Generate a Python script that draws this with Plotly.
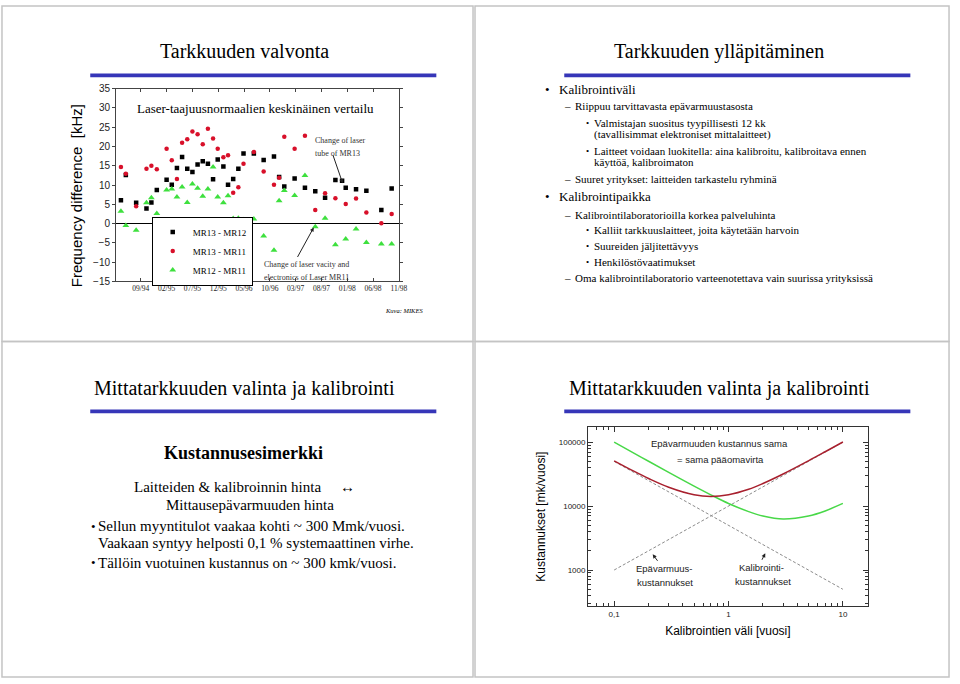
import plotly.graph_objects as go

W, H = 960, 684
def px(x): return x / W
def py(y): return 1 - y / H

SERIF = "Liberation Serif, Times New Roman, serif"
SANS = "Liberation Sans, Arial, sans-serif"

# ---------------- Top-left chart data (x = months since 09/94) ----------------
month_ticks = [0, 5, 10, 15, 20, 25, 30, 35, 40, 45, 50]
month_labels = ["09/94", "02/95", "07/95", "12/95", "05/96", "10/96",
                "03/97", "08/97", "01/98", "06/98", "11/98"]

x_mr13_mr12 = [-3.85, -2.9, -0.9, 1.1, 2.05, 3.1, 5.0, 6.0, 7.0, 8.0, 9.0, 10.0, 11.0,
               12.0, 13.0, 14.0, 14.9, 16.0, 16.9, 17.9, 18.9, 19.9, 21.9, 23.8, 25.8,
               26.8, 27.8, 29.8, 31.8, 33.8, 35.7, 37.7, 39.0, 39.7, 41.7, 43.7, 46.6, 48.6]
y_mr13_mr12 = [6.05, 12.6, 5.4, 3.9, 5.5, 8.7, 11.4, 10.1, 14.4, 17.3, 14.2, 13.4, 15.3,
               16.2, 15.5, 11.5, 16.6, 14.8, 10.1, 11.6, 14.2, 18.2, 18.2, 16.5, 17.4,
               12.1, 9.6, 11.7, 9.3, 8.4, 6.7, 11.3, 11.1, 9.3, 8.9, 8.5, 3.5, 9.1]

x_mr13_mr11 = [-3.85, -2.9, -0.9, 1.1, 2.05, 3.1, 5.0, 6.0, 7.0, 8.0, 9.0, 10.0, 11.0,
               12.0, 13.0, 14.0, 14.9, 16.0, 16.9, 17.9, 18.9, 19.9, 21.9, 23.8, 25.8,
               26.8, 27.8, 29.8, 31.8, 33.8, 35.7, 37.7, 39.7, 41.7, 43.7, 46.6, 48.6]
y_mr13_mr11 = [14.7, 12.9, 4.5, 14.2, 15.0, 14.1, 19.4, 16.4, 11.6, 21.0, 21.9, 23.9, 23.2,
               20.6, 24.6, 22.1, 19.4, 17.2, 17.7, 8.0, 9.4, 15.5, 18.6, 13.5, 10.1,
               11.9, 22.5, 19.4, 22.8, 3.5, 7.9, 6.6, 5.1, 6.5, 2.9, 0.1, 2.5]

x_mr12_mr11 = [-3.85, -2.9, -0.9, 1.1, 2.05, 3.1, 5.0, 6.0, 7.0, 8.0, 9.0, 10.0, 11.0,
               12.0, 13.0, 14.0, 14.9, 16.0, 16.9, 17.9, 18.9, 19.9, 21.9, 23.8, 25.8,
               26.8, 27.8, 29.8, 31.8, 33.8, 35.7, 37.7, 39.7, 41.7, 43.7, 46.6, 48.6]
y_mr12_mr11 = [3.2, -0.5, -1.7, 5.4, 6.7, 2.6, 8.7, 9.0, 6.9, 9.5, 5.5, 10.3, 9.2,
               7.1, 9.0, 14.7, 6.9, 5.4, 7.2, 1.3, 1.4, 1.0, 1.2, -3.2, -6.9,
               5.9, 8.6, 7.3, 12.5, -0.8, 1.4, -5.5, -4.0, -1.4, -4.9, -5.3, -5.3]

# ---------------- Bottom-right chart data ----------------
interval_years = [0.1, 0.15, 0.2, 0.3, 0.5, 0.7, 1, 1.5, 2, 3, 5, 7, 10]
total_cost_red = [51000, 34800, 27000, 19700, 15000, 14100, 15000, 18300, 22500,
                  31700, 51000, 70700, 100500]
total_cost_green = [100100, 66800, 50200, 33600, 20500, 15000, 11000, 8200, 7000,
                    6300, 7000, 8400, 11000]
uncert_x = [0.1, 10]
uncert_cost = [1000, 100000]
calib_x = [0.1, 10]
calib_cost = [50000, 500]

# ---------------- Text content ----------------
tr_lines = [
    (0, "Kalibrointiväli", 86),
    (1, "Riippuu tarvittavasta epävarmuustasosta", 103),
    (2, "Valmistajan suositus tyypillisesti 12 kk", 120),
    (3, "(tavallisimmat elektroniset mittalaitteet)", 132),
    (2, "Laitteet voidaan luokitella: aina kalibroitu, kalibroitava ennen", 148),
    (3, "käyttöä, kalibroimaton", 160),
    (1, "Suuret yritykset: laitteiden tarkastelu ryhminä", 177),
    (0, "Kalibrointipaikka", 195),
    (1, "Kalibrointilaboratorioilla korkea palveluhinta", 213),
    (2, "Kalliit tarkkuuslaitteet, joita käytetään harvoin", 229),
    (2, "Suureiden jäljitettävyys", 245),
    (2, "Henkilöstövaatimukset", 261),
    (1, "Oma kalibrointilaboratorio varteenotettava vain suurissa yrityksissä", 277),
]

fig = go.Figure()

# Top-left scatter
fig.add_trace(go.Scatter(x=x_mr13_mr12, y=y_mr13_mr12, mode="markers", name="MR13 - MR12",
                         marker=dict(symbol="square", size=4.5, color="black"),
                         xaxis="x", yaxis="y"))
fig.add_trace(go.Scatter(x=x_mr13_mr11, y=y_mr13_mr11, mode="markers", name="MR13 - MR11",
                         marker=dict(symbol="circle", size=4.5, color="#d8102a"),
                         xaxis="x", yaxis="y"))
fig.add_trace(go.Scatter(x=x_mr12_mr11, y=y_mr12_mr11, mode="markers", name="MR12 - MR11",
                         marker=dict(symbol="triangle-up", size=6, color="#3ee03e"),
                         xaxis="x", yaxis="y"))

# Bottom-right lines
dash_style = dict(color="#8c8c8c", width=1, dash="3px,2px")
fig.add_trace(go.Scatter(x=uncert_x, y=uncert_cost, mode="lines", line=dash_style,
                         showlegend=False, xaxis="x2", yaxis="y2"))
fig.add_trace(go.Scatter(x=calib_x, y=calib_cost, mode="lines", line=dash_style,
                         showlegend=False, xaxis="x2", yaxis="y2"))
fig.add_trace(go.Scatter(x=interval_years, y=total_cost_green, mode="lines",
                         line=dict(color="#48d848", width=1.5, shape="spline"),
                         showlegend=False, xaxis="x2", yaxis="y2"))
fig.add_trace(go.Scatter(x=interval_years, y=total_cost_red, mode="lines",
                         line=dict(color="#a8202e", width=1.5, shape="spline"),
                         showlegend=False, xaxis="x2", yaxis="y2"))

shapes = []
# slide frames
for (x0, y0, x1, y1) in [(2, 1, 477, 342), (479, 1, 957, 342), (2, 342, 477, 683), (479, 342, 957, 683)]:
    shapes.append(dict(type="rect", xref="paper", yref="paper", x0=px(x0), x1=px(x1),
                       y0=py(y0), y1=py(y1), line=dict(color="#c4c4c4", width=1.5)))
# blue bars
for (x0, x1, yc) in [(91, 440, 71.5), (569, 918, 71.5), (91, 440, 413), (569, 918, 413)]:
    shapes.append(dict(type="rect", xref="paper", yref="paper", x0=px(x0), x1=px(x1),
                       y0=py(yc - 2), y1=py(yc + 2), fillcolor="#3636b8", line=dict(width=0)))

ann = []
def text(x, y, s, size, font=SERIF, anchor="left", color="black", **kw):
    ann.append(dict(xref="paper", yref="paper", x=px(x), y=py(y), text=s, showarrow=False,
                    xanchor=anchor, yanchor="middle", font=dict(family=font, size=size, color=color), **kw))

# slide titles
text(247, 47, "Tarkkuuden valvonta", 20, anchor="center")
text(725, 47, "Tarkkuuden ylläpitäminen", 20, anchor="center")
text(247, 390, "Mittatarkkuuden valinta ja kalibrointi", 20, anchor="center")
text(726, 390, "Mittatarkkuuden valinta ja kalibrointi", 20, anchor="center")

# top-left chart texts
text(258, 105, "Laser-taajuusnormaalien keskinäinen vertailu", 13, anchor="center")
text(316, 138, "Change of laser", 8, color="#333")
text(316, 151, "tube of MR13", 8, color="#333")
text(264, 264, "Change of laser vacity and", 8, color="#333")
text(264, 277, "electronics of Laser MR11", 8, color="#333")
text(386, 310, "<i>Kuva: MIKES</i>", 6.5)
ann.append(dict(xref="paper", yref="paper", x=px(78), y=py(194), text="Frequency difference  [kHz]",
                showarrow=False, textangle=-90, xanchor="center", yanchor="middle",
                font=dict(family=SANS, size=15, color="black")))
ann.append(dict(xref="x", yref="y", x=39.1, y=10.5, ax=-10, ay=-29, text="", showarrow=True,
                arrowhead=2, arrowsize=0.8, arrowwidth=1, arrowcolor="#222"))
ann.append(dict(xref="x", yref="y", x=33.5, y=-1.0, ax=-17, ay=31, text="", showarrow=True,
                arrowhead=2, arrowsize=0.8, arrowwidth=1, arrowcolor="#222"))

# top-right bullets
for lvl, s, y in tr_lines:
    if lvl == 0:
        text(548, y, "•", 13)
        text(562, y, s, 13)
    elif lvl == 1:
        text(567, y, "–", 11)
        text(578, y, s, 11)
    elif lvl == 2:
        text(589, y, "•", 9)
        text(597, y, s, 11)
    else:
        text(597, y, s, 11)

# bottom-left text
text(246, 455, "<b>Kustannusesimerkki</b>", 18, anchor="center")
text(133, 490, "Laitteiden &amp; kalibroinnin hinta", 15)
text(350, 490, "↔", 15, anchor="center")
text(252, 508, "Mittausepävarmuuden hinta", 15, anchor="center")
text(90, 530, "•", 13)
text(97, 530, "Sellun myyntitulot vaakaa kohti ~ 300 Mmk/vuosi.", 15)
text(97, 547, "Vaakaan syntyy helposti 0,1 % systemaattinen virhe.", 15)
text(90, 567, "•", 13)
text(97, 567, "Tällöin vuotuinen kustannus on ~ 300 kmk/vuosi.", 15)

# bottom-right chart texts
text(726, 446, "Epävarmuuden kustannus sama", 9.5, font=SANS, anchor="center", color="#222")
text(727, 462, "= sama pääomavirta", 9.5, font=SANS, anchor="center", color="#222")
text(670, 573, "Epävarmuus-", 9.5, font=SANS, anchor="center", color="#222")
text(671, 587, "kustannukset", 9.5, font=SANS, anchor="center", color="#222")
text(768, 572, "Kalibrointi-", 9.5, font=SANS, anchor="center", color="#222")
text(769, 586, "kustannukset", 9.5, font=SANS, anchor="center", color="#222")
ann.append(dict(xref="x2", yref="y2", x=-0.663, y=3.246, ax=6, ay=8, text="", showarrow=True,
                arrowhead=2, arrowsize=0.8, arrowwidth=1, arrowcolor="#222"))
ann.append(dict(xref="x2", yref="y2", x=0.321, y=3.262, ax=-4, ay=8, text="", showarrow=True,
                arrowhead=2, arrowsize=0.8, arrowwidth=1, arrowcolor="#222"))

fig.update_layout(
    width=W, height=684, margin=dict(l=0, r=0, t=0, b=0), autosize=False,
    paper_bgcolor="white", plot_bgcolor="white",
    shapes=shapes, annotations=ann,
    legend=dict(x=px(153), y=py(215), xanchor="left", yanchor="top",
                bordercolor="black", borderwidth=1, bgcolor="white",
                font=dict(family=SERIF, size=9, color="black"), itemwidth=30,
                tracegroupgap=0),
    xaxis=dict(domain=[px(117), px(402.5)], range=[-4.8, 50.05], anchor="y",
               tickvals=month_ticks, ticktext=month_labels, showgrid=False, zeroline=False,
               showline=True, linecolor="#444", linewidth=1, mirror="ticks",
               ticks="inside", ticklen=3, tickcolor="#444",
               tickfont=dict(family=SERIF, size=7.5, color="#222")),
    yaxis=dict(domain=[py(281), py(85)], range=[-15, 35], anchor="x", dtick=5,
               showgrid=False, zeroline=True, zerolinecolor="black", zerolinewidth=1,
               showline=True, linecolor="#444", linewidth=1, mirror="ticks",
               ticks="outside", ticklen=3, tickcolor="#444",
               tickfont=dict(family=SANS, size=10, color="#222")),
    xaxis2=dict(domain=[px(593), px(875)], type="log", range=[-1.228, 1.217], anchor="y2",
                tickvals=[0.1, 1, 10], ticktext=["0,1", "1", "10"], showgrid=False,
                zeroline=False, showline=True, linecolor="#333", linewidth=1, mirror="allticks",
                ticks="inside", ticklen=5, tickcolor="#333",
                minor=dict(ticks="inside", ticklen=3, dtick="D1", showgrid=False, tickcolor="#333"),
                tickfont=dict(family=SANS, size=8, color="#222"),
                title=dict(text="Kalibrointien väli [vuosi]", standoff=8,
                           font=dict(family=SANS, size=12, color="black"))),
    yaxis2=dict(domain=[py(611), py(429)], type="log", range=[2.435, 5.235], anchor="x2",
                tickvals=[1000, 10000, 100000], ticktext=["1000", "10000", "100000"],
                showgrid=False, zeroline=False, showline=True, linecolor="#333", linewidth=1,
                mirror="allticks", ticks="inside", ticklen=5, tickcolor="#333",
                minor=dict(ticks="inside", ticklen=3, dtick="D1", showgrid=False, tickcolor="#333"),
                tickfont=dict(family=SANS, size=8, color="#222"),
                title=dict(text="Kustannukset [mk/vuosi]", standoff=10,
                           font=dict(family=SANS, size=12, color="black"))),
)

post = ("var s=document.createElement('style');"
        "s.innerHTML='html,body{margin:0!important;padding:0!important;overflow:hidden!important;}';"
        "document.head.appendChild(s);")
fig.write_html("out.html", config={"responsive": False, "displayModeBar": False},
               post_script=post)
